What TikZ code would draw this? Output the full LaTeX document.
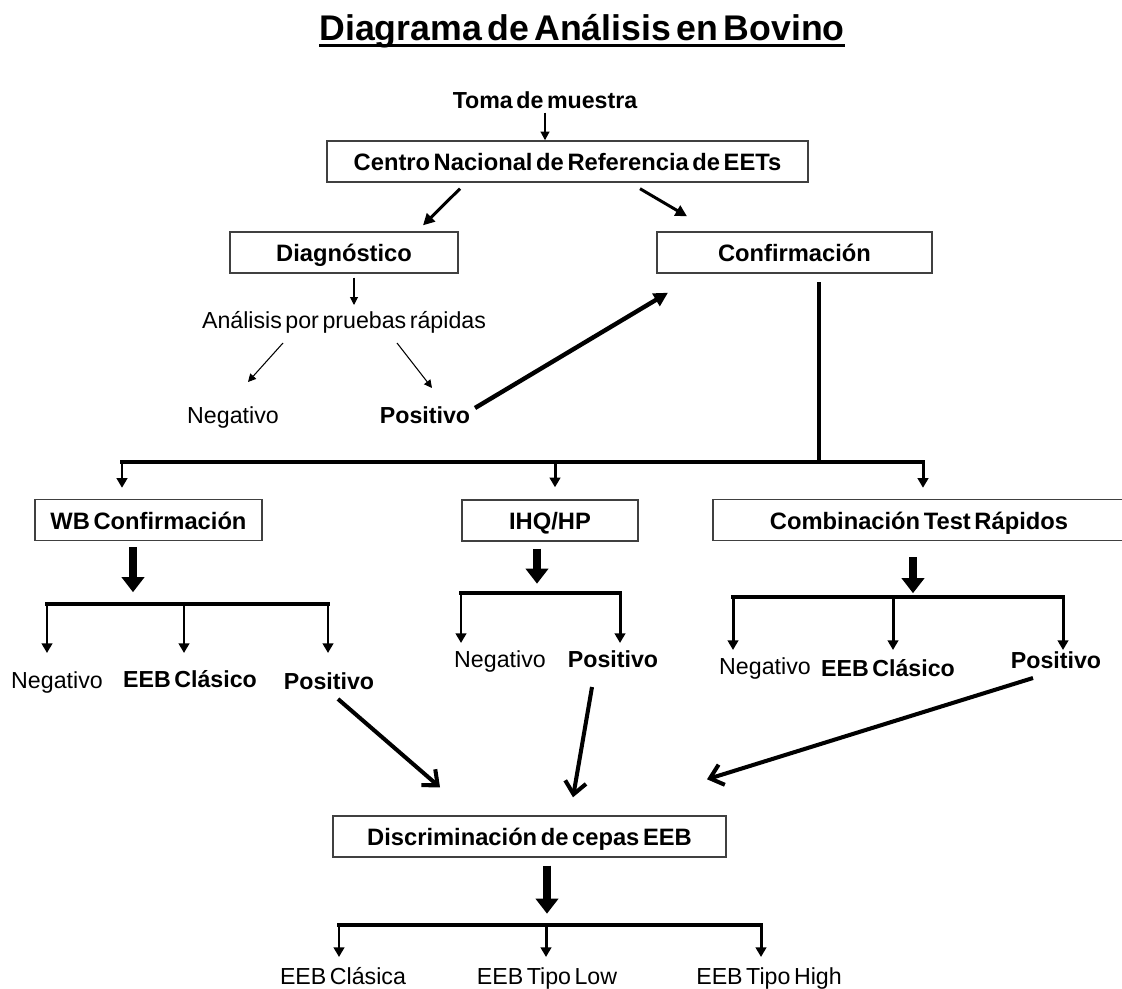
\documentclass[tikz,border=0pt]{standalone}
\usepackage{fontspec}
\setmainfont{Liberation Sans}[WordSpace=0.55]
\usetikzlibrary{arrows.meta}

\newcommand\diagfont{\fontsize{13.2pt}{15pt}\selectfont}
\newcommand\boxfont{\fontsize{13.5pt}{16pt}\selectfont\bfseries}
\newcommand\titlefont{\fontsize{20.3pt}{24pt}\selectfont\bfseries}

\tikzset{
  box/.style={draw=black!75, line width=0.8pt, minimum height=0.82cm, inner sep=0pt,
    text height=10.5pt, text depth=0pt, font=\boxfont},
  lbl/.style={inner sep=0pt, text height=10pt, text depth=0pt, font=\diagfont},
  blbl/.style={lbl, font=\diagfont\bfseries},
  thinarr/.style={line width=0.6pt, -{Triangle[length=4.5pt,width=4.5pt]}},
  midarr/.style={line width=1.1pt, -{Triangle[length=5pt,width=5pt]}},
  sidearr/.style={line width=1.7pt, -{Triangle[length=6.5pt,width=6.5pt]}},
  posarr/.style={line width=2.5pt, -{Triangle[length=8pt,width=8pt]}},
  bigarr/.style={line width=2.3pt, -{Straight Barb[length=7pt,width=12pt]}},
  brarr/.style={line width=1.7pt, -{Triangle[length=5.5pt,width=6pt]}},
  bus/.style={line width=1.9pt, line cap=rect},
  blockarr/.style={line width=4.5pt, -{Triangle[length=0.3cm,width=0.44cm]}}
}

\begin{document}
\begin{tikzpicture}[x=0.02cm,y=-0.02cm]
    \useasboundingbox (0,0) rectangle (1122,989);

    % The title
    \node[inner sep=0pt, font=\titlefont, anchor=base] (title) at (582,41) {Diagrama de Análisis en Bovino};
    \draw[line width=2pt] ([yshift=-2.5pt]title.base west) -- ([yshift=-2.5pt]title.base east);

    % Sample and reference centre
    \node[blbl] (toma) at (545,100) {Toma de muestra};
    \node[box, minimum width=9.62cm] (centro) at (567.5,161.5) {Centro Nacional de Referencia de EETs};
    \draw[midarr, shorten <=2pt] (toma.south) -- (toma.south |- centro.north);

    % Diagnosis and confirmation
    \node[box, minimum width=4.56cm] (diag) at (344,252.5) {Diagnóstico};
    \node[box, minimum width=5.5cm] (conf) at (794.5,252.5) {Confirmación};
    \draw[sidearr] ([shift={(-107.5,6)}]centro.south) -- ([shift={(79,-6)}]diag.north);
    \draw[sidearr] ([shift={(72.5,6)}]centro.south) -- ([shift={(-107.5,-15)}]conf.north);

    % Rapid tests
    \node[lbl] (rapid) at (344,320) {Análisis por pruebas rápidas};
    \node[lbl] (dneg) at (233,415) {Negativo};
    \node[blbl] (dpos) at (425,415) {Positivo};
    \draw[thinarr] ([shift={(10,4)}]diag.south) -- ([shift={(10,-15)}]rapid.center);
    \draw[thinarr] ([shift={(-61,23)}]rapid.center) -- ([shift={(15,-33)}]dneg.center);
    \draw[thinarr] ([shift={(53,23)}]rapid.center) -- ([shift={(7,-27)}]dpos.center);
    \draw[posarr] ([shift={(50,-7)}]dpos.center) -- ([shift={(-126.5,19)}]conf.south);

    % Confirmation branches
    \coordinate (busL) at (122,462);
    \coordinate (busR) at (923,462);
    \draw[bus] ([shift={(24.5,10)}]conf.south) -- ([shift={(24.5,189)}]conf.south);
    \draw[bus] (busL) -- (busR);

    \node[box, minimum width=4.54cm] (wb) at (148.5,520) {WB Confirmación};
    \node[box, minimum width=3.52cm] (ihq) at (550,520.5) {IHQ/HP};
    \node[box, minimum width=8.24cm] (comb) at (919,520) {Combinación Test Rápidos};
    \draw[brarr] (busL) -- ([shift={(-26.5,-11)}]wb.north);
    \draw[brarr] ([shift={(5,-38)}]ihq.north) -- ([shift={(5,-12)}]ihq.north);
    \draw[brarr] (busR) -- ([shift={(4,-11)}]comb.north);

    % The big block arrows
    \draw[blockarr] ([shift={(-15.5,6)}]wb.south) -- ([shift={(-15.5,51)}]wb.south);
    \draw[blockarr] ([shift={(-13,7)}]ihq.south) -- ([shift={(-13,42)}]ihq.south);
    \draw[blockarr] ([shift={(-6,16)}]comb.south) -- ([shift={(-6,52)}]comb.south);

    % WB results
    \coordinate (wbL) at (47,604);
    \coordinate (wbM) at (184,604);
    \coordinate (wbR) at (328,604);
    \draw[bus] (wbL) -- (wbR);
    \draw[brarr] (wbL) -- ++(0,49);
    \draw[brarr] (wbM) -- ++(0,49);
    \draw[brarr] (wbR) -- ++(0,49);
    \node[lbl] (wbneg) at (57,680) {Negativo};
    \node[blbl] (wbeeb) at (190,679) {EEB Clásico};
    \node[blbl] (wbpos) at (329,681) {Positivo};

    % IHQ results
    \coordinate (ihqL) at (461,593);
    \coordinate (ihqR) at (620,593);
    \draw[bus] (ihqL) -- (ihqR);
    \draw[brarr] (ihqL) -- ++(0,50);
    \draw[brarr] (ihqR) -- ++(0,50);
    \node[lbl] (ihqneg) at (500,659) {Negativo};
    \node[blbl] (ihqpos) at (613,659) {Positivo};

    % Rapid test results
    \coordinate (cL) at (733,597);
    \coordinate (cM) at (893,597);
    \coordinate (cR) at (1063,597);
    \draw[bus] (cL) -- (cR);
    \draw[brarr] (cL) -- ++(0,53);
    \draw[brarr] (cM) -- ++(0,53);
    \draw[brarr] (cR) -- ++(0,53);
    \node[lbl] (cneg) at (765,666) {Negativo};
    \node[blbl] (ceeb) at (888,668) {EEB Clásico};
    \node[blbl] (cpos) at (1056,660) {Positivo};

    % Strain discrimination
    \node[box, minimum width=7.86cm] (discr) at (529.5,836.5) {Discriminación de cepas EEB};
    \draw[bigarr] ([shift={(9,18)}]wbpos.center) -- ([shift={(-89.5,-28)}]discr.north);
    \draw[bigarr] ([shift={(-21,28)}]ihqpos.center) -- ([shift={(43.5,-18)}]discr.north);
    \draw[bigarr] ([shift={(-23,18)}]cpos.center) -- ([shift={(177.5,-36)}]discr.north);
    \draw[blockarr] ([shift={(17.5,8)}]discr.south) -- ([shift={(17.5,56)}]discr.south);

    \coordinate (stL) at (339,925);
    \coordinate (stM) at (546,925);
    \coordinate (stR) at (761,925);
    \draw[bus] (stL) -- (stR);
    \draw[brarr] (stL) -- ++(0,32);
    \draw[brarr] (stM) -- ++(0,32);
    \draw[brarr] (stR) -- ++(0,32);
    \node[lbl] (eeb1) at (343,976) {EEB Clásica};
    \node[lbl] (eeb2) at (547,976) {EEB Tipo Low};
    \node[lbl] (eeb3) at (769,976) {EEB Tipo High};
  \end{tikzpicture}
\end{document}
